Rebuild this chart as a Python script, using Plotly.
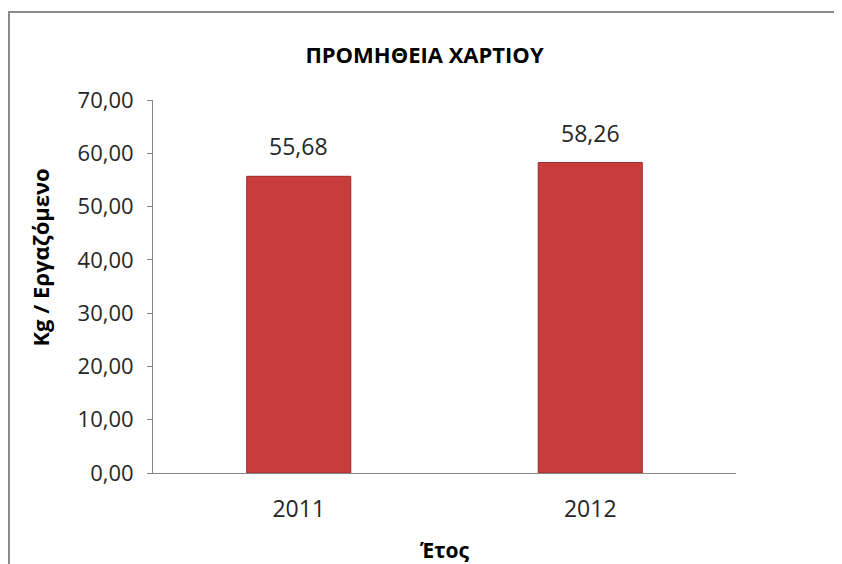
import plotly.graph_objects as go

categories = ["2011", "2012"]
values = [55.68, 58.26]
value_labels = ["55,68", "58,26"]
tick_vals = [0, 10, 20, 30, 40, 50, 60, 70]
tick_text = ["0,00", "10,00", "20,00", "30,00", "40,00", "50,00", "60,00", "70,00"]

# page body has an 8px margin, so lay out in a slightly smaller canvas
OFF = 8
W, H = 842 - OFF, 564 - OFF
L, R, T, B = 153 - OFF, 842 - 736, 100 - OFF, 564 - 473
pw, ph = W - L - R, H - T - B

FONT = "Open Sans"
TXT = "#262626"

fig = go.Figure()
fig.add_trace(go.Bar(
    x=categories, y=values, width=0.357,
    marker=dict(color="#C93C3C", line=dict(color="#9A2A2A", width=1)),
    hoverinfo="skip",
))

# value labels (category axis positions are the category indices)
for i, (v, t) in enumerate(zip(values, value_labels)):
    fig.add_annotation(x=i, y=v, text=t, showarrow=False, xanchor="center",
                       yanchor="bottom", yshift=12,
                       font=dict(family=FONT, size=23, color=TXT))

# y axis title
fig.add_annotation(xref="paper", yref="paper", x=(40 - 153) / pw, y=(473 - 257.5) / ph,
                   xanchor="center", yanchor="middle",
                   text="<b>Kg / Εργαζόμενο</b>", textangle=-90, showarrow=False,
                   font=dict(family=FONT, size=22, color="#000000"))
# x axis title
fig.add_annotation(xref="paper", yref="paper", x=0.5, y=(473 - 550) / ph,
                   xanchor="center", yanchor="middle",
                   text="<b>Έτος</b>", showarrow=False,
                   font=dict(family=FONT, size=21, color="#000000"))

# outer chart frame
fig.add_shape(type="rect", xref="paper", yref="paper",
              x0=(9 - 153) / pw, x1=(860 - 153) / pw, y0=(473 - 600) / ph, y1=(473 - 12) / ph,
              line=dict(color="#8A8A8A", width=2), fillcolor="rgba(0,0,0,0)", layer="below")

fig.update_layout(
    width=W, height=H,
    margin=dict(l=L, r=R, t=T, b=B, autoexpand=False),
    paper_bgcolor="white", plot_bgcolor="white",
    showlegend=False,
    title=dict(text="<b>ΠΡΟΜΗΘΕΙΑ ΧΑΡΤΙΟΥ</b>", x=(424.5 - OFF) / W, xanchor="center",
               y=1 - (55 - OFF) / H, yanchor="middle",
               font=dict(family=FONT, size=22, color="#000000")),
    xaxis=dict(type="category", categoryorder="array", categoryarray=categories,
               range=[-0.5, 1.5],
               showline=True, linecolor="#868686", linewidth=1,
               ticks="outside", ticklen=15, tickcolor="rgba(0,0,0,0)",
               showgrid=False, zeroline=False, automargin=False,
               tickfont=dict(family=FONT, size=23, color=TXT)),
    yaxis=dict(range=[0, 70], tickvals=tick_vals, ticktext=tick_text,
               showline=True, linecolor="#868686", linewidth=1,
               ticks="outside", ticklen=5, tickcolor="#868686",
               ticklabelstandoff=9,
               showgrid=False, zeroline=False, automargin=False,
               tickfont=dict(family=FONT, size=22, color=TXT)),
)

fig.write_html("out.html")
